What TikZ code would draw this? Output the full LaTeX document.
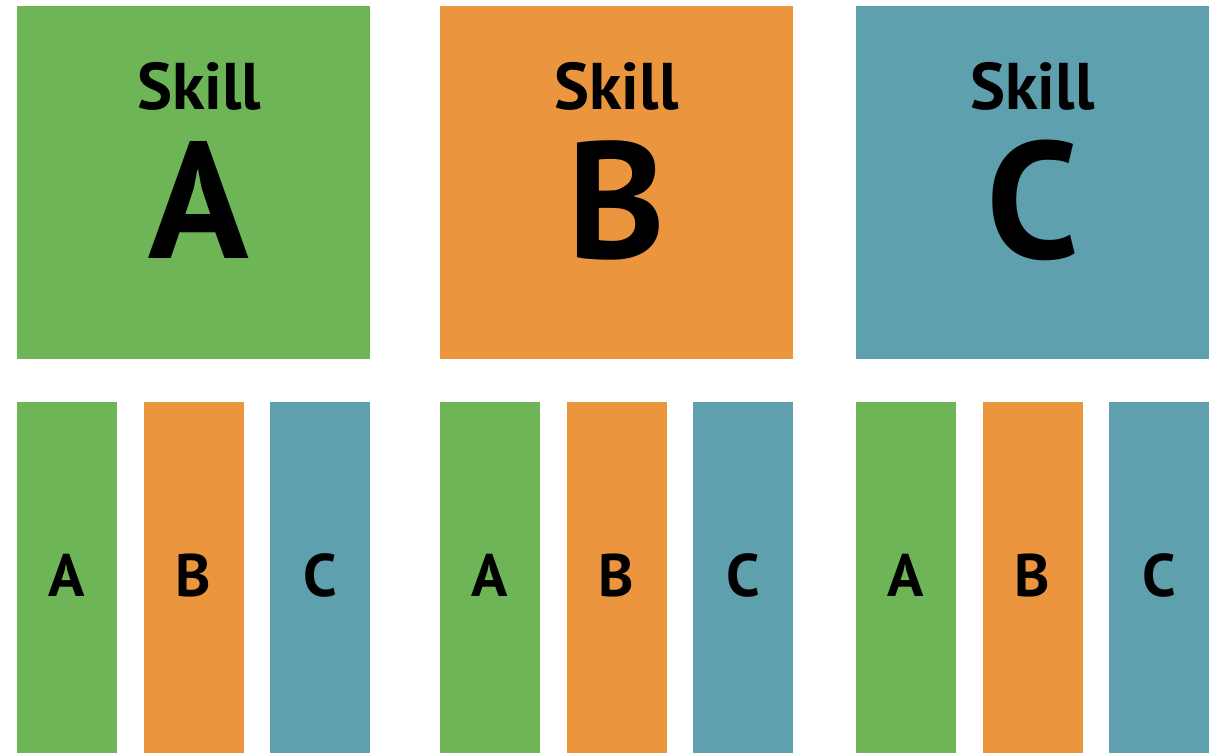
\documentclass[tikz,border=0pt]{standalone}
\usepackage{fontspec}
\setmainfont{PT Sans}
\usetikzlibrary{positioning}
\definecolor{skillgreen}{HTML}{6DB556}
\definecolor{skillorange}{HTML}{EB963F}
\definecolor{skillteal}{HTML}{5EA0AD}
\begin{document}
\begin{tikzpicture}
	[x=1pt,y=-1pt,
		bigsquare/.style={rectangle, draw=none, inner sep=0, minimum width=353pt, minimum height=353pt},
		smallbar/.style={rectangle, draw=none, inner sep=0, minimum width=100pt, minimum height=351pt},
		skilltext/.style={anchor=base, inner sep=0, font=\fontsize{66}{66}\selectfont\bfseries},
		bigletter/.style={anchor=base, inner sep=0, font=\fontsize{166}{166}\selectfont\bfseries},
		barletter/.style={anchor=base, inner sep=0, font=\fontsize{60}{60}\selectfont\bfseries},
	]
	\useasboundingbox (0,0) rectangle (1215,753);

	\node[bigsquare, fill=skillgreen] (squareA) at (193.5,182.5) {};
	\node[bigsquare, fill=skillorange] (squareB) at (616.5,182.5) {};
	\node[bigsquare, fill=skillteal] (squareC) at (1032.5,182.5) {};

	\node[skilltext] (skillA) at (199,109) {Skill};
	\node[skilltext] (skillB) at (616.5,109) {Skill};
	\node[skilltext] (skillC) at (1032.5,109) {Skill};

	\node[bigletter] (letterA) at (199,258) {A};
	\node[bigletter] (letterB) at (616.5,258) {B};
	\node[bigletter] (letterC) at (1032.5,258) {C};

	% rows of bars under each skill
	\foreach \grp/\gx in {A/67, B/490, C/906} {
		\node[smallbar, fill=skillgreen] (bar\grp a) at (\gx,577.5) {};
		\node[smallbar, fill=skillorange] (bar\grp b) at (\gx+126.5,577.5) {};
		\node[smallbar, fill=skillteal] (bar\grp c) at (\gx+253,577.5) {};
		\node[barletter] (txt\grp a) at (\gx,596) {A};
		\node[barletter] (txt\grp b) at (\gx+126.5,596) {B};
		\node[barletter] (txt\grp c) at (\gx+253,596) {C};
	}
\end{tikzpicture}
\end{document}
